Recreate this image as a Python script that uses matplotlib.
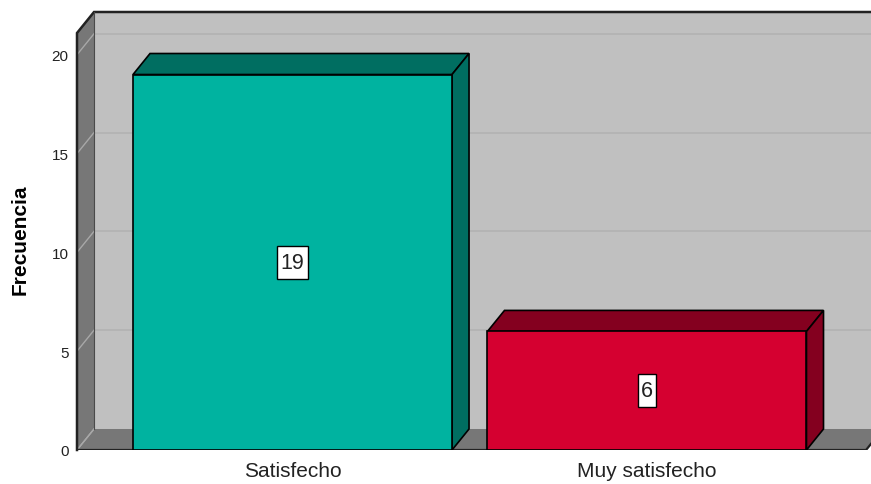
import matplotlib.pyplot as plt
from matplotlib.patches import Polygon, Rectangle
from matplotlib.path import Path

categorias = ["Satisfecho", "Muy satisfecho"]
frecuencia = [19, 6]
colores_frente = ["#00b3a0", "#d50030"]
colores_sombra = ["#006e61", "#84001f"]
marcas_y = [0, 5, 10, 15, 20]

plt.rcParams['font.family'] = ['Liberation Sans', 'DejaVu Sans']


def caja_etiqueta(x0, y0, width, height, mutation_size):
    # caja rectangular con mas margen vertical que horizontal
    px, py = 0.15 * mutation_size, 0.28 * mutation_size
    x0, y0 = x0 - px, y0 - py
    x1, y1 = x0 + width + 2 * px, y0 + height + 2 * py
    return Path([(x0, y0), (x1, y0), (x1, y1), (x0, y1), (x0, y0)], closed=True)


W, H = 871, 485
fig = plt.figure(figsize=(W / 100, H / 100), dpi=100)
ax = fig.add_axes([77 / W, 34 / H, (W - 77) / W, 438 / H])

# limites y profundidad del efecto 3D (en unidades de datos)
xmin, xmax = -0.608, 1.632
x_fin = 1.618
techo = 21.1
dx, dy = 0.048, 1.063
ancho = 0.9
ax.set_xlim(xmin, xmax)
ax.set_ylim(0, techo + dy)

# pared del fondo
ax.add_patch(Polygon([(xmin + dx, dy), (x_fin + dx, dy), (x_fin + dx, techo + dy),
                      (xmin + dx, techo + dy)], closed=True, facecolor="#c0c0c0",
                     edgecolor="none", zorder=1))
for v in marcas_y[1:]:
    ax.plot([xmin + dx, x_fin + dx], [v + dy, v + dy], color="#b2b2b2", lw=1.2, zorder=2)

# pared izquierda
ax.add_patch(Polygon([(xmin, 0), (xmin, techo), (xmin + dx, techo + dy), (xmin + dx, dy)],
                     closed=True, facecolor="#777777", edgecolor="none", zorder=3))
for v in marcas_y:
    ax.plot([xmin, xmin + dx], [v, v + dy], color="#a8a8a8", lw=1, zorder=4)

# suelo
ax.add_patch(Polygon([(xmin, 0), (x_fin, 0), (x_fin + dx, dy), (xmin + dx, dy)],
                     closed=True, facecolor="#777777", edgecolor="none", zorder=3))
ax.plot([xmin, xmin + dx], [0, dy], color="#a8a8a8", lw=1, zorder=4)

# bordes del marco
borde = "#222222"
ax.plot([xmin, xmin, xmin + dx, xmax + 0.1], [0, techo, techo + dy, techo + dy],
        color=borde, lw=1.8, zorder=5, clip_on=False, solid_joinstyle="miter")
ax.plot([xmin + dx, xmin + dx], [dy, techo + dy], color="#4a4a4a", lw=0.8, zorder=5)
ax.plot([xmin, x_fin, x_fin + dx], [0, 0, dy], color=borde, lw=1.6, zorder=5)

# barras
for i, v in enumerate(frecuencia):
    x0, x1 = i - ancho / 2, i + ancho / 2
    ax.add_patch(Polygon([(x0, v), (x1, v), (x1 + dx, v + dy), (x0 + dx, v + dy)],
                         closed=True, facecolor=colores_sombra[i], edgecolor="black",
                         lw=1.2, zorder=6))
    ax.add_patch(Polygon([(x1, 0), (x1 + dx, dy), (x1 + dx, v + dy), (x1, v)],
                         closed=True, facecolor=colores_sombra[i], edgecolor="black",
                         lw=1.2, zorder=6))
    ax.add_patch(Rectangle((x0, 0), ancho, v, facecolor=colores_frente[i],
                           edgecolor="black", lw=1.2, zorder=7))
    ax.text(i, v / 2, str(v), ha="center", va="center", fontsize=15.5, zorder=8,
            color="#222222",
            bbox=dict(boxstyle=caja_etiqueta, facecolor="white",
                      edgecolor="black", lw=1))

for s in ax.spines.values():
    s.set_visible(False)
ax.set_yticks(marcas_y)
ax.set_xticks(range(len(categorias)))
ax.set_xticklabels(categorias, fontsize=15, color="#222222")
ax.tick_params(axis="y", length=0, pad=6, labelsize=11, labelcolor="#222222")
ax.tick_params(axis="x", length=0, pad=8)

fig.text(20 / W, 1 - 240 / H, "Frecuencia", rotation=90, ha="center", va="center",
         fontsize=15, fontweight="bold")

fig.savefig("out.png", dpi=100)
